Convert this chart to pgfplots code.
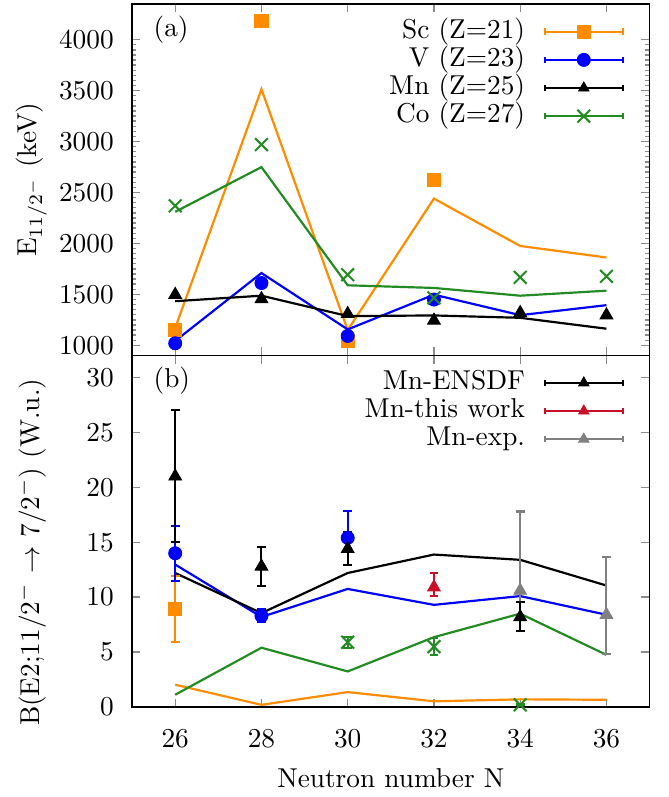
\documentclass[border=0pt]{standalone}
\usepackage{pgfplots}
\pgfplotsset{compat=1.18}
\definecolor{scO}{RGB}{255,140,0}
\definecolor{vB}{RGB}{0,0,255}
\definecolor{coG}{RGB}{34,139,34}
\definecolor{mnR}{RGB}{200,16,40}
\definecolor{mnG}{RGB}{128,128,128}
\pgfplotsset{
  myax/.style={
    scale only axis, width=189.45pt, height=128.7pt,
    xmin=25, xmax=37, xtick={26,28,30,32,34,36},
    tick align=inside, major tick length=3pt, minor tick length=1.6pt,
    every tick/.style={black!45, line width=0.5pt},
    axis line style={line width=0.55pt},
    scaled y ticks=false,
    /pgf/number format/1000 sep={},
    yticklabel style={xshift=-3.2pt},
    xticklabel style={yshift=-4.9pt},
    ylabel style={at={(axis description cs:-0.194,0.5)}, anchor=center},
    legend cell align=right, legend plot pos=right,
    legend style={anchor=north east, draw=none, fill=none, inner sep=0pt, outer sep=0pt, column sep=6.9pt,
      nodes={inner sep=0pt, text height=7.5pt, text depth=2.8pt}},
    legend image code/.code={
      \draw[mark repeat=2, mark phase=2] plot coordinates {(0pt,0pt) (14.2pt,0pt) (28.4pt,0pt)};
      \draw (0pt,-1.2pt) -- (0pt,1.2pt);
      \draw (28.4pt,-1.2pt) -- (28.4pt,1.2pt);
    },
  },
  th/.style={line width=0.8pt, mark=none, forget plot},
  eb/.style={forget plot, only marks,
    error bars/y dir=both, error bars/y explicit,
    error bars/error bar style={line width=0.75pt, solid},
    error bars/error mark options={rotate=90, mark size=1.6pt, line width=0.75pt}},
  mSc/.style={color=scO, mark=square*, mark size=2.4pt, mark options={line width=0.3pt}},
  mV/.style={color=vB, mark=*, mark size=2.4pt, mark options={line width=0.3pt}},
  mMn/.style={color=black, mark=triangle*, mark size=2.7pt, mark options={line width=0.3pt}},
  mMnR/.style={color=mnR, mark=triangle*, mark size=2.7pt, mark options={line width=0.3pt}},
  mMnG/.style={color=mnG, mark=triangle*, mark size=2.7pt, mark options={line width=0.3pt}},
  mCo/.style={color=coG, mark=x, mark size=3.3pt, mark options={line width=0.75pt}},
}
\begin{document}
\begin{tikzpicture}
\path (-48.36pt,1.45pt) rectangle (196.35pt,-288.35pt);
% ---------------- panel (a)
\begin{axis}[myax, at={(0pt,0pt)}, anchor=north west,
  ymin=900, ymax=4350, ytick={1000,1500,...,4000}, minor y tick num=9,
  xticklabels={},
  ylabel={E$_{11/2^-}$ (keV)},
  legend style={at={(axis description cs:0.950,0.961)}}]
\addlegendimage{mSc, line width=0.8pt, mark size=2.4pt}\addlegendentry{Sc (Z=21)}
\addlegendimage{mV, line width=0.8pt}\addlegendentry{V (Z=23)}
\addlegendimage{mMn, line width=0.8pt, mark size=2.2pt}\addlegendentry{Mn (Z=25)}
\addlegendimage{mCo, line width=0.8pt}\addlegendentry{Co (Z=27)}
% theory lines
\addplot[th, color=scO] coordinates {(26,1170) (28,3513) (30,1150) (32,2440) (34,1975) (36,1862)};
\addplot[th, color=vB] coordinates {(26,1043) (28,1709) (30,1156) (32,1497) (34,1296) (36,1394)};
\addplot[th, color=black] coordinates {(26,1433) (28,1487) (30,1287) (32,1293) (34,1270) (36,1163)};
\addplot[th, color=coG] coordinates {(26,2310) (28,2749) (30,1589) (32,1563) (34,1487) (36,1536)};
% experimental points
\addplot[forget plot, only marks, mSc] coordinates {(26,1150) (28,4185) (30,1043) (32,2619)};
\addplot[forget plot, only marks, mV] coordinates {(26,1020) (28,1611) (30,1092) (32,1449)};
\addplot[forget plot, only marks, mMn] coordinates {(26,1497) (28,1455) (30,1309) (32,1244) (34,1319) (36,1296)};
\addplot[forget plot, only marks, mCo] coordinates {(26,2369) (28,2970) (30,1693) (32,1465) (34,1667) (36,1677)};
\node[anchor=west] at (axis description cs:0.023,0.927) {(a)};
\end{axis}
% ---------------- panel (b)
\begin{axis}[myax, at={(0pt,-128.7pt)}, anchor=north west,
  ymin=0, ymax=32, ytick={0,5,...,30},
  xlabel={Neutron number N},
  xlabel style={at={(axis description cs:0.5,0)}, anchor=base, yshift=-29.5pt},
  ylabel={B(E2;11/2$^-$ $\rightarrow$ 7/2$^-$) (W.u.)},
  ylabel style={at={(axis description cs:-0.194,0.44)}},
  legend style={at={(axis description cs:0.950,0.962)}}]
\addlegendimage{mMn, line width=0.8pt, mark size=2.2pt}\addlegendentry{Mn-ENSDF}
\addlegendimage{mMnR, line width=0.8pt, mark size=2.2pt}\addlegendentry{Mn-this work}
\addlegendimage{mMnG, line width=0.8pt, mark size=2.2pt}\addlegendentry{Mn-exp.}
% theory lines
\addplot[th, color=scO] coordinates {(26,2.03) (28,0.2) (30,1.36) (32,0.52) (34,0.7) (36,0.66)};
\addplot[th, color=vB] coordinates {(26,12.97) (28,8.2) (30,10.75) (32,9.3) (34,10.1) (36,8.4)};
\addplot[th, color=black] coordinates {(26,12.2) (28,8.55) (30,12.2) (32,13.88) (34,13.4) (36,11.06)};
\addplot[th, color=coG] coordinates {(26,1.12) (28,5.4) (30,3.24) (32,6.36) (34,8.5) (36,4.75)};
% experimental points
\addplot[mSc, eb] coordinates {(26,8.9) +- (0,3)};
\addplot[mV, eb] coordinates {(26,14) +- (0,2.5) (28,8.3) +- (0,0.6) (30,15.4) +- (0,2.45)};
\addplot[mCo, eb] coordinates {(30,5.9) +- (0,0.5) (32,5.5) +- (0,0.8) (34,0.2) +- (0,0.05)};
\addplot[mMnG, eb] coordinates {(34,10.6) += (0,7.2) -= (0,3.7) (36,8.4) += (0,5.3) -= (0,3.6)};
\addplot[mMnR, eb] coordinates {(32,10.9) += (0,1.3) -= (0,0.75)};
\addplot[mMn, eb] coordinates {(26,21) +- (0,6) (28,12.8) +- (0,1.8) (30,14.4) +- (0,1.5) (34,8.2) += (0,1.4) -= (0,1.3)};
\node[anchor=west] at (axis description cs:0.023,0.929) {(b)};
\end{axis}
\end{tikzpicture}
\end{document}
